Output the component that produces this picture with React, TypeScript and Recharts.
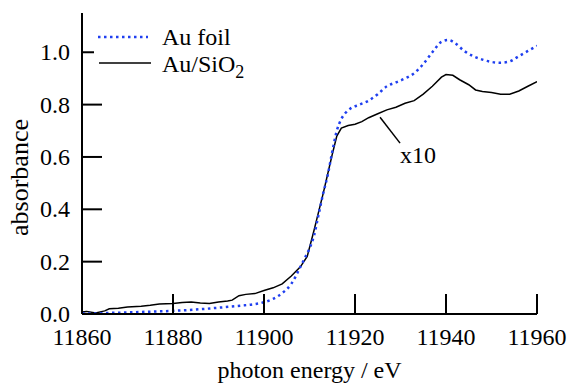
import React from 'react';
import { LineChart, Line, XAxis, YAxis, Legend, ReferenceLine, ReferenceDot } from 'recharts';

const xTicks = [11860, 11880, 11900, 11920, 11940, 11960];
const yTicks = [0, 0.2, 0.4, 0.6, 0.8, 1.0];

const foilEnergy = [11860, 11863, 11866, 11870, 11875, 11880, 11885, 11890, 11895, 11898, 11900, 11902, 11904, 11906, 11908, 11909, 11910, 11911, 11912, 11913, 11914, 11915, 11916, 11917, 11918, 11919, 11921, 11923, 11925, 11927, 11929, 11931, 11933, 11935, 11937, 11939, 11940.5, 11942, 11944, 11946, 11948, 11950, 11952, 11954, 11956, 11958, 11960];
const foilAbs = [0.003, 0.002, 0.004, 0.006, 0.009, 0.012, 0.017, 0.024, 0.032, 0.038, 0.045, 0.058, 0.08, 0.115, 0.18, 0.215, 0.25, 0.3, 0.38, 0.46, 0.53, 0.62, 0.7, 0.745, 0.77, 0.785, 0.8, 0.815, 0.84, 0.87, 0.885, 0.9, 0.92, 0.955, 1.0, 1.04, 1.047, 1.035, 1.005, 0.985, 0.972, 0.963, 0.96, 0.965, 0.985, 1.005, 1.025];

const sio2Energy = [11860, 11861, 11863, 11865, 11866, 11868, 11870, 11873, 11875, 11877, 11880, 11882, 11884, 11886, 11888, 11890, 11892, 11893, 11894.5, 11896, 11898, 11900, 11902, 11904, 11906, 11908, 11909.5, 11911, 11912, 11913, 11914, 11915, 11916, 11917, 11918.5, 11920, 11921.5, 11923, 11925, 11927, 11929, 11931, 11933, 11935, 11937, 11939, 11940, 11941.5, 11943, 11945, 11946.5, 11948, 11950, 11952, 11954, 11956, 11958, 11960];
const sio2Abs = [0.008, 0.01, 0.004, 0.012, 0.02, 0.022, 0.027, 0.03, 0.033, 0.038, 0.04, 0.044, 0.046, 0.042, 0.04, 0.046, 0.05, 0.053, 0.07, 0.075, 0.078, 0.09, 0.1, 0.115, 0.145, 0.18, 0.22, 0.32, 0.39, 0.46, 0.535, 0.61, 0.68, 0.71, 0.72, 0.725, 0.735, 0.75, 0.765, 0.78, 0.79, 0.805, 0.815, 0.84, 0.87, 0.905, 0.915, 0.912, 0.895, 0.876, 0.856, 0.85, 0.846, 0.84, 0.84, 0.852, 0.87, 0.888];

const seriesNames = ['Au foil', 'Au/SiO'];
const xTitle = 'photon energy / eV';
const yTitle = 'absorbance';
const scaleNote = 'x10';
const noteLine = [{ x: 11925.5, y: 0.752 }, { x: 11929.9, y: 0.653 }];
const notePos = { x: 11933.85, y: 0.609 };

const foilData = foilEnergy.map((e, i) => ({ e, v: foilAbs[i] }));
const sio2Data = sio2Energy.map((e, i) => ({ e, v: sio2Abs[i] }));

const FONT = 'Liberation Serif';
const BLUE = '#1f3ff0';
const FS = 24;
const lineStyle = { stroke: '#000', strokeWidth: 2 };

const XTick = (props: any) => {
  const { x, y, payload } = props;
  return (
    <text x={x} y={y + 17} textAnchor="middle" fontFamily={FONT} fontSize={FS} fill="#000">
      {payload.value}
    </text>
  );
};

const YTick = (props: any) => {
  const { x, y, payload } = props;
  return (
    <text x={x} y={y + 8} textAnchor="end" fontFamily={FONT} fontSize={FS} fill="#000">
      {Number(payload.value).toFixed(1)}
    </text>
  );
};

const XTitle = (props: any) => {
  const vb = props.viewBox;
  return (
    <text x={vb.x + vb.width / 2} y={378} textAnchor="middle" fontFamily={FONT} fontSize={FS} fill="#000">
      {xTitle}
    </text>
  );
};

const YTitle = (props: any) => {
  const vb = props.viewBox;
  const cx = 28;
  const cy = vb.y + vb.height / 2 + 14;
  return (
    <text x={cx} y={cy} transform={`rotate(-90 ${cx} ${cy})`} textAnchor="middle" fontFamily={FONT} fontSize={26} fill="#000">
      {yTitle}
    </text>
  );
};

const NoteLabel = (props: any) => {
  const vb = props.viewBox;
  const cx = vb.cx !== undefined ? vb.cx : vb.x + (vb.width || 0) / 2;
  const cy = vb.cy !== undefined ? vb.cy : vb.y + (vb.height || 0) / 2;
  return (
    <text x={cx} y={cy + 8} textAnchor="middle" fontFamily={FONT} fontSize={FS} fill="#000">
      {scaleNote}
    </text>
  );
};

const LegendBox = () => (
  <svg width={156} height={56} style={{ display: 'block', overflow: 'visible' }}>
    <rect x={0} y={0} width={156} height={56} fill="#fff" />
    <line x1={4} y1={13} x2={54} y2={13} stroke={BLUE} strokeWidth={2.5} strokeDasharray="2.5 3.5" />
    <line x1={5} y1={39} x2={57} y2={39} stroke="#000" strokeWidth={1.5} />
    <text x={68} y={21} fontSize={FS} fontFamily={FONT} fill="#000">{seriesNames[0]}</text>
    <text x={68} y={48} fontSize={FS} fontFamily={FONT} fill="#000">
      {seriesNames[1]}
      <tspan dy={6} fontSize={18}>2</tspan>
    </text>
  </svg>
);

export default function App() {
  return (
    <div style={{ position: 'absolute', left: 0, top: 0 }}>
      <LineChart width={571} height={387} margin={{ top: 13, right: 34, left: 0, bottom: 0 }}>
        <XAxis
          dataKey="e"
          type="number"
          domain={[11860, 11960]}
          ticks={xTicks}
          allowDataOverflow
          height={73}
          axisLine={lineStyle}
          tickLine={lineStyle}
          tickSize={-20}
          tickMargin={34}
          tick={<XTick />}
          label={<XTitle />}
        />
        <XAxis
          xAxisId="top"
          orientation="top"
          type="number"
          domain={[11860, 11960]}
          ticks={xTicks}
          allowDataOverflow
          height={0}
          axisLine={lineStyle}
          tickLine={lineStyle}
          tickSize={-20}
          tickFormatter={() => ''}
        />
        <YAxis
          type="number"
          domain={[0, 1.15]}
          ticks={yTicks}
          allowDataOverflow
          width={82}
          axisLine={lineStyle}
          tickLine={lineStyle}
          tickSize={-20}
          tickMargin={32}
          tick={<YTick />}
          label={<YTitle />}
        />
        <YAxis
          yAxisId="right"
          orientation="right"
          type="number"
          domain={[0, 1.15]}
          ticks={yTicks}
          allowDataOverflow
          width={0}
          axisLine={lineStyle}
          tickLine={lineStyle}
          tickSize={-20}
          tickFormatter={() => ''}
        />
        <Line data={sio2Data} dataKey="v" type="linear" stroke="#000" strokeWidth={1.5} dot={false} isAnimationActive={false} />
        <Line data={foilData} dataKey="v" type="monotone" stroke={BLUE} strokeWidth={2.5} strokeDasharray="2.5 3.5" dot={false} isAnimationActive={false} />
        <ReferenceLine segment={noteLine} stroke="#000" strokeWidth={1.5} ifOverflow="visible" />
        <ReferenceDot
          x={notePos.x}
          y={notePos.y}
          r={0}
          fill="none"
          stroke="none"
          ifOverflow="visible"
          label={<NoteLabel />}
        />
        <Legend
          layout="vertical"
          align="center"
          verticalAlign="middle"
          wrapperStyle={{ position: 'absolute', left: 94, top: 24, width: 156, height: 56 }}
          content={() => <LegendBox />}
        />
      </LineChart>
    </div>
  );
}
